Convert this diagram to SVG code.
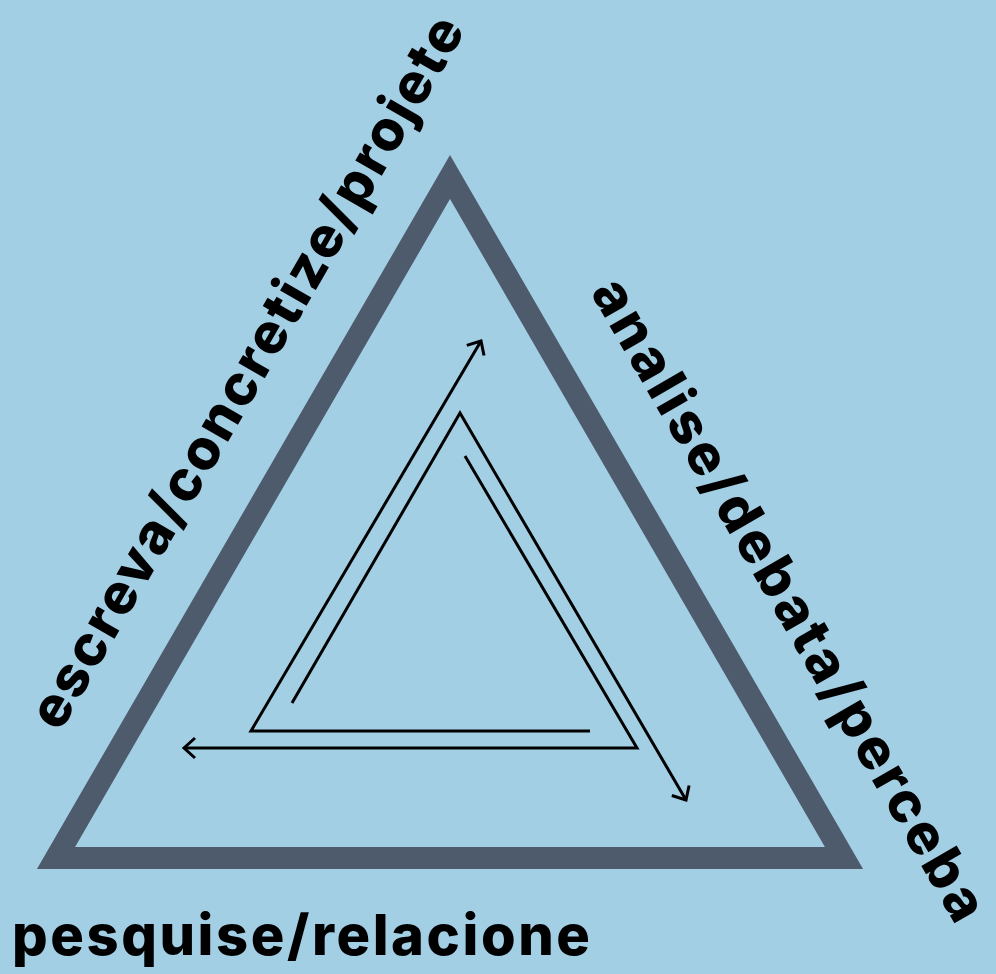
<svg xmlns="http://www.w3.org/2000/svg" width="996" height="974" viewBox="0 0 996 974">
  <defs>
    <style>
      .lbl { font-family: "Inter", "Liberation Sans", sans-serif; font-weight: 800; font-size: 56px; fill: #000; }
      .ln { fill: none; stroke: #000; stroke-width: 3; stroke-linejoin: miter; }
    </style>
    <marker id="arr" markerUnits="userSpaceOnUse" markerWidth="30" markerHeight="30" viewBox="-15 -15 30 30" refX="0" refY="0" orient="auto">
      <path d="M-11,-10 L0,0 L-11,10" fill="none" stroke="#000" stroke-width="3"/>
    </marker>
  </defs>
  <rect x="0" y="0" width="996" height="974" fill="#a3cfe5"/>

  <g id="triangle">
    <path d="M450,177 L844,858 L56,858 Z" fill="none" stroke="#4e5b6c" stroke-width="22" stroke-linejoin="miter" stroke-miterlimit="10"/>
  </g>

  <g id="connectors">
    <path class="ln" d="M292,703 L460,413 L686,800" marker-end="url(#arr)"/>
    <path class="ln" d="M465,456 L637,748 L184,748" marker-end="url(#arr)"/>
    <path class="ln" d="M590,731 L251,731 L481,341" marker-end="url(#arr)"/>
  </g>

  <g id="label-left">
    <text class="lbl" x="60" y="733" transform="rotate(-60 60 733)" textLength="812" lengthAdjust="spacing">escreva/concretize/projete</text>
  </g>
  <g id="label-right">
    <text class="lbl" x="590" y="292" transform="rotate(60 590 292)" textLength="732" lengthAdjust="spacing">analise/debata/perceba</text>
  </g>
  <g id="label-bottom">
    <text class="lbl" x="12" y="955" textLength="578" lengthAdjust="spacing">pesquise/relacione</text>
  </g>
</svg>
